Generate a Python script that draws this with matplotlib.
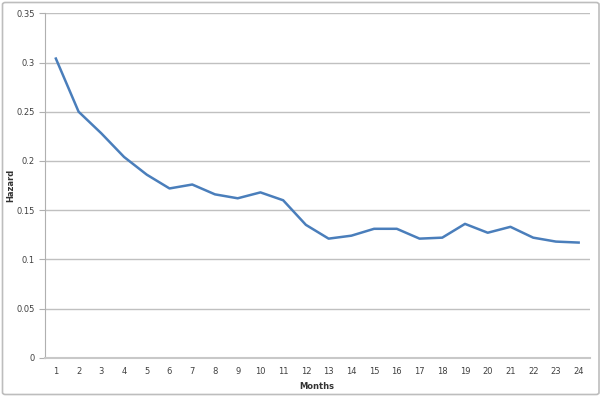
import matplotlib.pyplot as plt
from matplotlib.patches import FancyBboxPatch

months = list(range(1, 25))
hazard = [0.304, 0.250, 0.228, 0.204, 0.186, 0.172, 0.176, 0.166, 0.162, 0.168,
          0.160, 0.135, 0.121, 0.124, 0.131, 0.131, 0.121, 0.122, 0.136, 0.127,
          0.133, 0.122, 0.118, 0.117]
y_ticks = [0, 0.05, 0.1, 0.15, 0.2, 0.25, 0.3, 0.35]
y_labels = ["0", "0.05", "0.1", "0.15", "0.2", "0.25", "0.3", "0.35"]

fig = plt.figure(figsize=(6.02, 3.97), dpi=100)
ax = fig.add_axes([44.5 / 602, 1 - 357.7 / 397, (590 - 44.5) / 602, (357.7 - 13.3) / 397])

# chart area border
fig.patches.append(FancyBboxPatch((2.5 / 602, 2.5 / 397), 596.5 / 602, 392 / 397,
                                  boxstyle="round,pad=0,rounding_size=0.005",
                                  transform=fig.transFigure, fill=False,
                                  edgecolor="#bdbdbd", linewidth=1.2))

ax.plot(months, hazard, color="#4a7ebb", lw=1.8)

ax.set_xlim(0.5, 24.5)
ax.set_ylim(0, 0.35)
ax.set_xticks(months)
ax.set_xticklabels([str(m) for m in months])
ax.set_yticks(y_ticks)
ax.set_yticklabels(y_labels)
ax.grid(axis="y", color="#c0c0c0", lw=1)
ax.set_axisbelow(True)

for s in ["top", "right"]:
    ax.spines[s].set_visible(False)
ax.spines["left"].set_color("#b0b0b0")
ax.spines["bottom"].set_color("#c8c8c8")
ax.spines["bottom"].set_linewidth(1.5)

ax.tick_params(axis="y", length=4, color="#b0b0b0", labelsize=6, labelcolor="#404040", pad=3)
ax.tick_params(axis="x", length=0, labelsize=6, labelcolor="#404040", pad=7)

ax.set_xlabel("Months", fontsize=6, fontweight="bold", color="#333333", labelpad=4)
ax.set_ylabel("Hazard", fontsize=6, fontweight="bold", color="#333333")
ax.yaxis.set_label_coords((15 - 44.5) / 545.5, 0.5)

fig.savefig("out.png", dpi=100)
